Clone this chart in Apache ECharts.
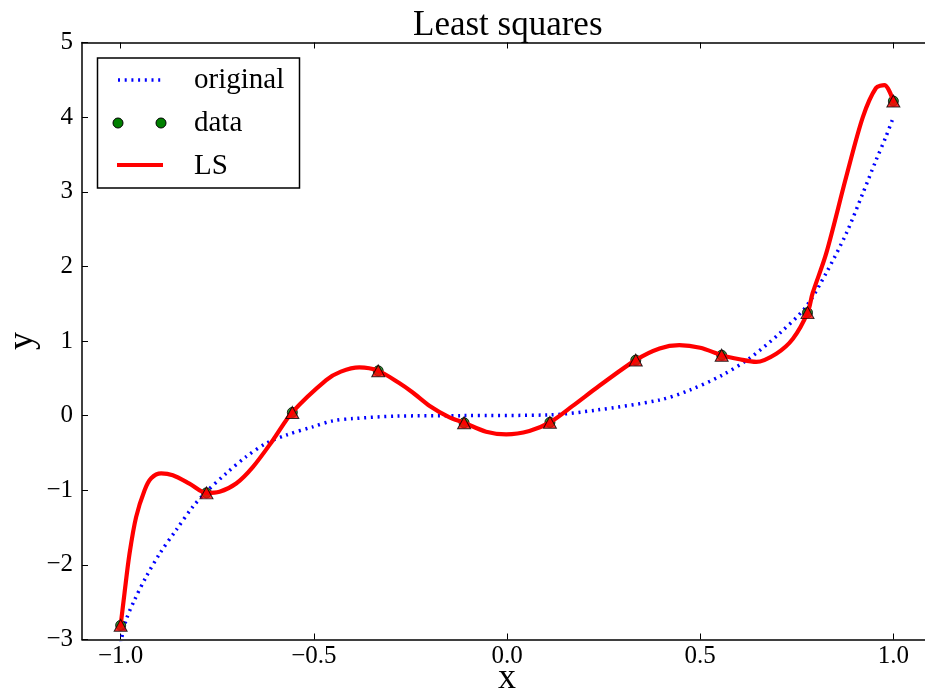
<!DOCTYPE html>
<html>
<head>
<meta charset="utf-8">
<script src="https://cdn.jsdelivr.net/npm/echarts@6/dist/echarts.min.js"></script>
<style>html,body{margin:0;padding:0;background:#fff}#c{width:925px;height:691px}</style>
</head>
<body>
<div id="c"></div>
<script>
// ---- data ----
var dataX = [-1.0, -0.7778, -0.5556, -0.3333, -0.1111, 0.1111, 0.3333, 0.5556, 0.7778, 1.0];
var dataY = [-2.81, -1.035, 0.043, 0.60, -0.096, -0.09, 0.744, 0.81, 1.38, 4.215];
var lsAtDataY = [-2.81, -1.035, 0.043, 0.60, -0.096, -0.09, 0.744, 0.81, 1.38, 4.215];

var originalX = [-1.0, -0.986, -0.964, -0.934, -0.899, -0.856, -0.813, -0.778, -0.727, -0.675, -0.623, -0.571, -0.503, -0.451, -0.399, -0.287, -0.114, 0.11, 0.231, 0.395, 0.472, 0.556, 0.628, 0.705, 0.774, 0.826, 0.878, 0.921, 0.955, 0.981, 1.0];
var originalY = [-3.05, -2.74, -2.47, -2.16, -1.85, -1.53, -1.22, -1.02, -0.775, -0.55, -0.37, -0.26, -0.15, -0.07, -0.04, -0.007, 0.0, 0.01, 0.074, 0.21, 0.34, 0.54, 0.77, 1.10, 1.46, 1.91, 2.44, 2.98, 3.42, 3.74, 4.0];

var lsX = [-1.0, -0.990, -0.977, -0.960, -0.938, -0.921, -0.895, -0.865, -0.822, -0.778, -0.744, -0.701, -0.658, -0.606, -0.556, -0.468, -0.430, -0.382, -0.333, -0.280, -0.244, -0.200, -0.150, -0.111, -0.054, -0.002, 0.058, 0.111, 0.170, 0.239, 0.333, 0.395, 0.446, 0.500, 0.556, 0.602, 0.645, 0.697, 0.740, 0.778, 0.791, 0.826, 0.878, 0.921, 0.955, 0.977, 1.0];
var lsY = [-2.81, -2.38, -1.85, -1.36, -1.0, -0.84, -0.775, -0.80, -0.91, -1.035, -1.02, -0.91, -0.69, -0.33, 0.043, 0.476, 0.59, 0.646, 0.60, 0.44, 0.31, 0.13, -0.02, -0.096, -0.215, -0.25, -0.205, -0.09, 0.13, 0.40, 0.744, 0.90, 0.945, 0.91, 0.81, 0.755, 0.72, 0.83, 1.03, 1.38, 1.64, 2.17, 3.2, 4.0, 4.39, 4.43, 4.215];

var xTicks = [-1.0, -0.5, 0.0, 0.5, 1.0];
var yTicks = [-3, -2, -1, 0, 1, 2, 3, 4, 5];
var titleText = 'Least squares';
var legendNames = ['original', 'data', 'LS'];

function zip(a, b) { return a.map(function (v, i) { return [v, b[i]]; }); }
function fmtX(v) { return (v < 0 ? '\u2212' : '') + Math.abs(v).toFixed(1); }
function fmtY(v) { return (v < 0 ? '\u2212' : '') + Math.abs(v).toFixed(0); }

var SERIF = '"Liberation Serif", "DejaVu Serif", serif';
var G = { left: 82, top: 42.5, width: 850, height: 597 };

var chart = echarts.init(document.getElementById('c'), null, { renderer: 'canvas' });
chart.setOption({
  animation: false,
  backgroundColor: '#fff',
  title: {
    text: titleText, left: 408, top: 3,
    textStyle: { fontFamily: SERIF, fontSize: 35, fontWeight: 'normal', color: '#000' }
  },
  grid: { left: G.left, top: G.top, width: G.width, height: G.height, containLabel: false, outerBoundsMode: 'none' },
  xAxis: [{
    type: 'value', min: -1.1, max: 1.1, position: 'bottom',
    name: 'x', nameLocation: 'middle', nameGap: 21, nameMoveOverlap: false,
    nameTextStyle: { fontFamily: SERIF, fontSize: 36, color: '#000' },
    axisLine: { show: true, onZero: false, lineStyle: { color: '#000', width: 1.5 } },
    axisTick: { show: true, inside: true, length: 6, customValues: xTicks, lineStyle: { color: '#000', width: 1 } },
    axisLabel: { show: true, customValues: xTicks, formatter: fmtX, margin: 4, fontFamily: SERIF, fontSize: 25, color: '#000' },
    splitLine: { show: false }
  }, {
    type: 'value', min: -1.1, max: 1.1, position: 'top',
    axisLine: { show: true, onZero: false, lineStyle: { color: '#000', width: 1.5 } },
    axisTick: { show: true, inside: true, length: 6, customValues: xTicks, lineStyle: { color: '#000', width: 1 } },
    axisLabel: { show: false },
    splitLine: { show: false }
  }],
  yAxis: [{
    type: 'value', min: -3, max: 5, interval: 1,
    name: 'y', nameLocation: 'middle', nameGap: 41, nameRotate: 90, nameMoveOverlap: false,
    nameTextStyle: { fontFamily: SERIF, fontSize: 36, color: '#000' },
    axisLine: { show: true, onZero: false, lineStyle: { color: '#000', width: 1.5 } },
    axisTick: { show: true, inside: true, length: 6, lineStyle: { color: '#000', width: 1 } },
    axisLabel: { show: true, formatter: fmtY, margin: 9, fontFamily: SERIF, fontSize: 25, color: '#000' },
    splitLine: { show: false }
  }],
  series: [{
    name: legendNames[0], type: 'line', xAxisIndex: 0, yAxisIndex: 0,
    data: zip(originalX, originalY), smooth: 0.3, showSymbol: false, clip: true,
    lineStyle: { color: '#0000ff', width: 3.5, type: [2, 4.7], cap: 'butt' }, z: 2
  }, {
    name: legendNames[1], type: 'scatter', data: zip(dataX, dataY),
    symbol: 'circle', symbolSize: 10,
    itemStyle: { color: '#008000', borderColor: '#000', borderWidth: 1 }, z: 3
  }, {
    name: legendNames[2], type: 'line', data: zip(lsX, lsY), smooth: 0.3, showSymbol: false, clip: true,
    lineStyle: { color: '#ff0000', width: 4.2, cap: 'round', join: 'round' }, z: 4
  }, {
    name: 'LS at data', type: 'scatter', data: zip(dataX, lsAtDataY),
    symbol: 'triangle', symbolSize: [13, 12],
    itemStyle: { color: '#ff0000', borderColor: '#000', borderWidth: 1 }, z: 5
  }],
  graphic: [{
    type: 'rect', shape: { x: 97.5, y: 58, width: 202, height: 130 },
    style: { fill: '#fff', stroke: '#000', lineWidth: 1.5 }, z: 100
  }, {
    type: 'line', shape: { x1: 118, y1: 80, x2: 163, y2: 80 },
    style: { stroke: '#0000ff', lineWidth: 3.5, lineDash: [2, 4.7] }, z: 101
  }, {
    type: 'circle', shape: { cx: 118, cy: 123, r: 5 },
    style: { fill: '#008000', stroke: '#000', lineWidth: 1 }, z: 101
  }, {
    type: 'circle', shape: { cx: 161, cy: 123, r: 5 },
    style: { fill: '#008000', stroke: '#000', lineWidth: 1 }, z: 101
  }, {
    type: 'line', shape: { x1: 117, y1: 165, x2: 163, y2: 165 },
    style: { stroke: '#ff0000', lineWidth: 4.2 }, z: 101
  }, {
    type: 'text', x: 194, y: 80,
    style: { text: legendNames[0], font: '29px ' + SERIF, fill: '#000', textVerticalAlign: 'middle', verticalAlign: 'middle' }, z: 101
  }, {
    type: 'text', x: 194, y: 123,
    style: { text: legendNames[1], font: '29px ' + SERIF, fill: '#000', textVerticalAlign: 'middle', verticalAlign: 'middle' }, z: 101
  }, {
    type: 'text', x: 194, y: 166,
    style: { text: legendNames[2], font: '29px ' + SERIF, fill: '#000', textVerticalAlign: 'middle', verticalAlign: 'middle' }, z: 101
  }]
});
</script>
</body>
</html>
